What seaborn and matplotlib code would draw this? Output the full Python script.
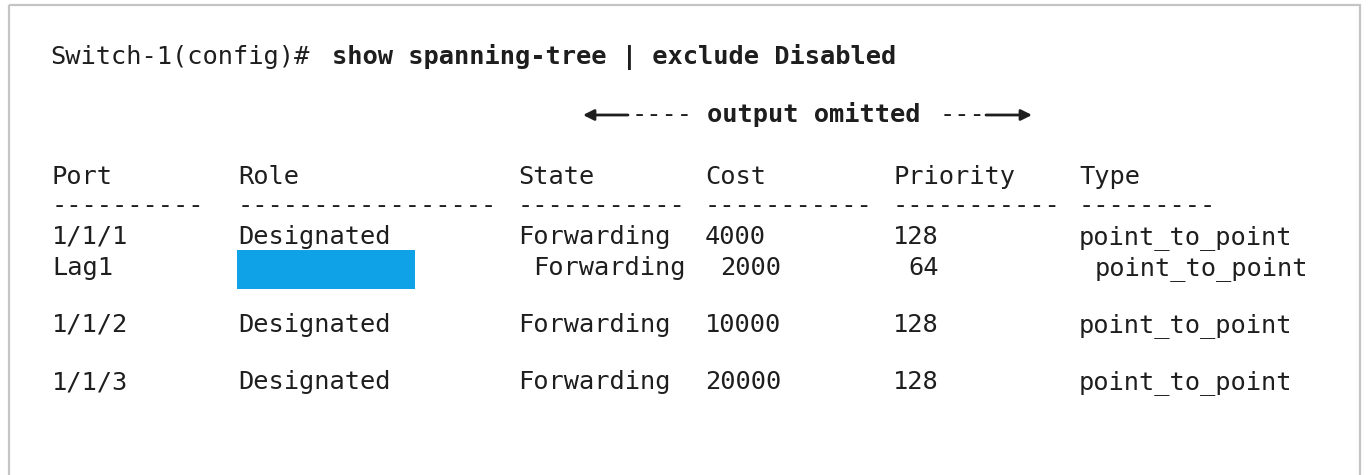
import matplotlib
matplotlib.use("Agg")
import matplotlib.pyplot as plt
import seaborn as sns
from matplotlib.patches import Rectangle

# table content
columns = ["Port", "Role", "State", "Cost", "Priority", "Type"]
dash_counts = [10, 17, 11, 11, 11, 9]
ports = ["1/1/1", "Lag1", "1/1/2", "1/1/3"]
roles = ["Designated", "", "Designated", "Designated"]
states = ["Forwarding", "Forwarding", "Forwarding", "Forwarding"]
costs = ["4000", "2000", "10000", "20000"]
priorities = ["128", "64", "128", "128"]
types = ["point_to_point", "point_to_point", "point_to_point", "point_to_point"]
prompt = "Switch-1(config)#"
command = "show spanning-tree | exclude Disabled"

sns.set_style("white")
plt.rcParams['font.family'] = ['DejaVu Sans Mono']

fig = plt.figure(figsize=(13.71, 4.75), dpi=100)
ax = fig.add_axes([0, 0, 1, 1])
ax.set_xlim(0, 1371)
ax.set_ylim(475, 0)
ax.axis("off")

ink = "#1e1e1e"
fs = 18.3

# frame around the screenshot
ax.add_patch(Rectangle((9, 5), 1351, 480, fill=False, edgecolor="#c4c4c4", lw=1.6))

# command line
ax.text(50, 64, prompt, fontsize=fs, color=ink, va="baseline")
ax.text(332, 64, command, fontsize=fs, color=ink, va="baseline", fontweight="bold")

# output omitted marker
ax.text(632, 122, "----", fontsize=fs, color=ink, va="baseline")
ax.text(707, 122, "output omitted", fontsize=fs, color=ink, va="baseline", fontweight="bold")
ax.text(940, 122, "---", fontsize=fs, color=ink, va="baseline")
arrow = dict(arrowstyle="-|>", color=ink, lw=2, mutation_scale=16, shrinkA=0, shrinkB=0)
ax.annotate("", xy=(583, 115), xytext=(628, 115), arrowprops=arrow)
ax.annotate("", xy=(1032, 115), xytext=(986, 115), arrowprops=arrow)

# header and dashes
col_x = [52, 238, 518, 705, 893, 1079]
for x, name, n in zip(col_x, columns, dash_counts):
    ax.text(x, 184, name, fontsize=fs, color=ink, va="baseline")
    ax.text(x, 213, "-" * n, fontsize=fs, color=ink, va="baseline")

# rows
row_y = [244, 275, 332, 389]
shift = [0, 1, 0, 0]  # the Lag1 line is offset by one space
char_w = 15.5
for i, y in enumerate(row_y):
    off = shift[i] * char_w
    vals = [ports[i], roles[i], states[i], costs[i], priorities[i], types[i]]
    for j, (x, v) in enumerate(zip(col_x, vals)):
        dx = off if j >= 2 else 0
        ax.text(x + dx, y, v, fontsize=fs, color=ink, va="baseline")

# hidden role for Lag1
ax.add_patch(Rectangle((237, 250), 178, 39, color="#0fa2e6", lw=0))

fig.savefig("out.png", dpi=100, facecolor="white")
